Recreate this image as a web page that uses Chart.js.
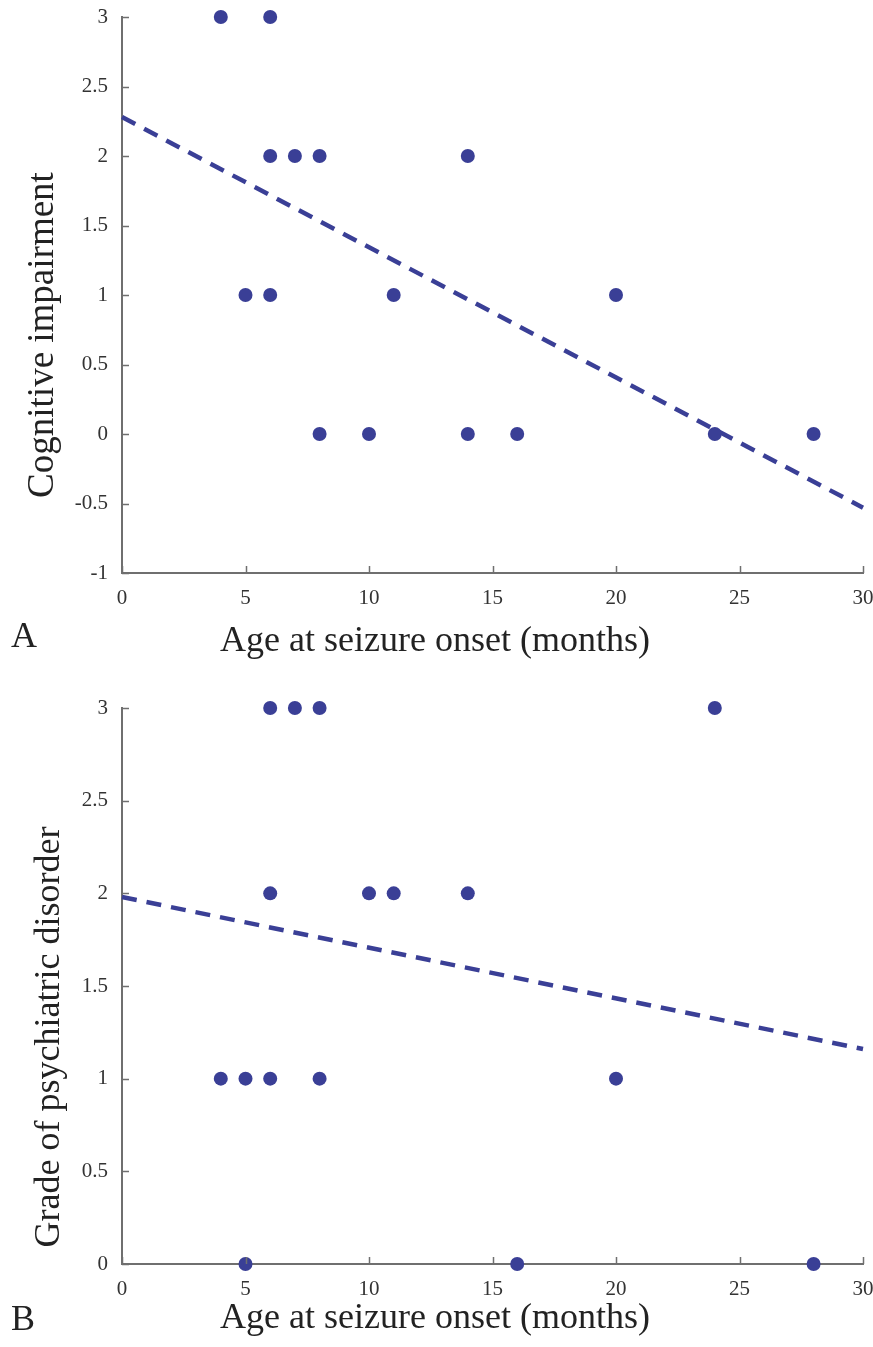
<!DOCTYPE html>
<html>
<head>
<meta charset="utf-8">
<script src="https://cdn.jsdelivr.net/npm/chart.js@4/dist/chart.umd.min.js"></script>
<style>
  html, body { margin: 0; padding: 0; background: #fff; }
  #page { position: relative; width: 873px; height: 1347px; overflow: hidden; background: #fff; }
  .cv { position: absolute; left: 0; width: 873px; }
  .txt { position: absolute; font-family: "Liberation Serif", "Times New Roman", serif; color: #222; font-size: 36px; line-height: 36px; white-space: nowrap; }
  .htitle { width: 700px; text-align: center; }
  .vtitle { width: 700px; text-align: center; transform: rotate(-90deg); transform-origin: 50% 50%; }
</style>
</head>
<body>
<div id="page">
  <div class="cv" style="top:0px;height:640px;"><canvas id="chartA" width="873" height="640"></canvas></div>
  <div class="cv" style="top:680px;height:660px;"><canvas id="chartB" width="873" height="660"></canvas></div>

  <div class="txt vtitle" style="left:-309px; top:317px; font-size:37px;">Cognitive impairment</div>
  <div class="txt htitle" style="left:85px; top:621px;">Age at seizure onset (months)</div>
  <div class="txt" style="left:11px; top:617px;">A</div>

  <div class="txt vtitle" style="left:-303px; top:1019px;">Grade of psychiatric disorder</div>
  <div class="txt htitle" style="left:85px; top:1298px;">Age at seizure onset (months)</div>
  <div class="txt" style="left:11px; top:1300px;">B</div>
</div>
<script>
// ---- Data ----
const xTicks = [0, 5, 10, 15, 20, 25, 30];
const yTicksA = [-1, -0.5, 0, 0.5, 1, 1.5, 2, 2.5, 3];
const yTicksB = [0, 0.5, 1, 1.5, 2, 2.5, 3];

// Panel A: age at seizure onset (months) vs cognitive impairment
const onsetA    = [4, 6, 6, 7, 8, 14, 5, 6, 11, 20, 8, 10, 14, 16, 24, 28];
const cognitive = [3, 3, 2, 2, 2, 2, 1, 1, 1, 1, 0, 0, 0, 0, 0, 0];
const fitAx = [0, 30];
const fitAy = [2.28, -0.53];

// Panel B: age at seizure onset (months) vs grade of psychiatric disorder
const onsetB      = [6, 7, 8, 24, 6, 10, 11, 14, 4, 5, 6, 8, 20, 5, 16, 28];
const psychiatric = [3, 3, 3, 3, 2, 2, 2, 2, 1, 1, 1, 1, 1, 0, 0, 0];
const fitBx = [0, 30];
const fitBy = [1.98, 1.16];

// ---- Styling ----
const BLUE = '#3a3f96';
const AXIS = '#6f6f6f';
const FONT = "'Liberation Serif', 'Times New Roman', serif";

const innerTicks = {
  id: 'innerTicks',
  afterDraw(chart) {
    const ctx = chart.ctx;
    const xs = chart.scales.x, ys = chart.scales.y;
    const a = chart.chartArea;
    ctx.save();
    ctx.strokeStyle = AXIS;
    ctx.lineWidth = 1.5;
    ctx.beginPath();
    xs.ticks.forEach(t => {
      const px = Math.round(xs.getPixelForValue(t.value)) + 0.5;
      ctx.moveTo(px, a.bottom);
      ctx.lineTo(px, a.bottom - 7);
    });
    ys.ticks.forEach(t => {
      const py = Math.round(ys.getPixelForValue(t.value)) + 0.5;
      ctx.moveTo(a.left, py);
      ctx.lineTo(a.left + 7, py);
    });
    ctx.stroke();
    ctx.restore();
  }
};

function zeroPad(s) {
  s.paddingTop = 0; s.paddingBottom = 0; s.paddingLeft = 0; s.paddingRight = 0;
}

function makeChart(id, xs, ys, fx, fy, yTicks, padTop, xHeight) {
  const pts = xs.map((x, i) => ({ x: x, y: ys[i] }));
  const line = fx.map((x, i) => ({ x: x, y: fy[i] }));
  const yMin = yTicks[0], yMax = yTicks[yTicks.length - 1];
  return new Chart(document.getElementById(id), {
    type: 'scatter',
    data: {
      datasets: [
        {
          type: 'line',
          data: line,
          borderColor: BLUE,
          borderWidth: 4.5,
          borderDash: [15, 10],
          pointRadius: 0,
          fill: false,
          clip: false,
          order: 2
        },
        {
          data: pts,
          backgroundColor: BLUE,
          borderColor: BLUE,
          pointRadius: 7,
          borderWidth: 0,
          clip: false,
          order: 1
        }
      ]
    },
    options: {
      responsive: false,
      animation: false,
      events: [],
      layout: { padding: { top: padTop, right: 10, left: 0, bottom: 0 } },
      plugins: { legend: { display: false }, tooltip: { enabled: false } },
      scales: {
        x: {
          type: 'linear',
          min: xTicks[0],
          max: xTicks[xTicks.length - 1],
          afterBuildTicks: s => { s.ticks = xTicks.map(v => ({ value: v })); },
          afterFit: s => { s.height = xHeight; zeroPad(s); },
          grid: { display: true, drawOnChartArea: false, drawTicks: false },
          border: { display: true, color: AXIS, width: 2 },
          ticks: {
            padding: 13,
            color: '#333',
            font: { family: FONT, size: 21 },
            maxRotation: 0,
            callback: v => String(v)
          }
        },
        y: {
          type: 'linear',
          min: yMin,
          max: yMax,
          afterBuildTicks: s => { s.ticks = yTicks.map(v => ({ value: v })); },
          afterFit: s => { s.width = 122; zeroPad(s); },
          grid: { display: true, drawOnChartArea: false, drawTicks: false },
          border: { display: true, color: AXIS, width: 2 },
          ticks: {
            padding: 14,
            color: '#333',
            font: { family: FONT, size: 21 },
            callback: v => String(v)
          }
        }
      }
    },
    plugins: [innerTicks]
  });
}

makeChart('chartA', onsetA, cognitive, fitAx, fitAy, yTicksA, 17, 67);
makeChart('chartB', onsetB, psychiatric, fitBx, fitBy, yTicksB, 28, 76);
</script>
</body>
</html>
